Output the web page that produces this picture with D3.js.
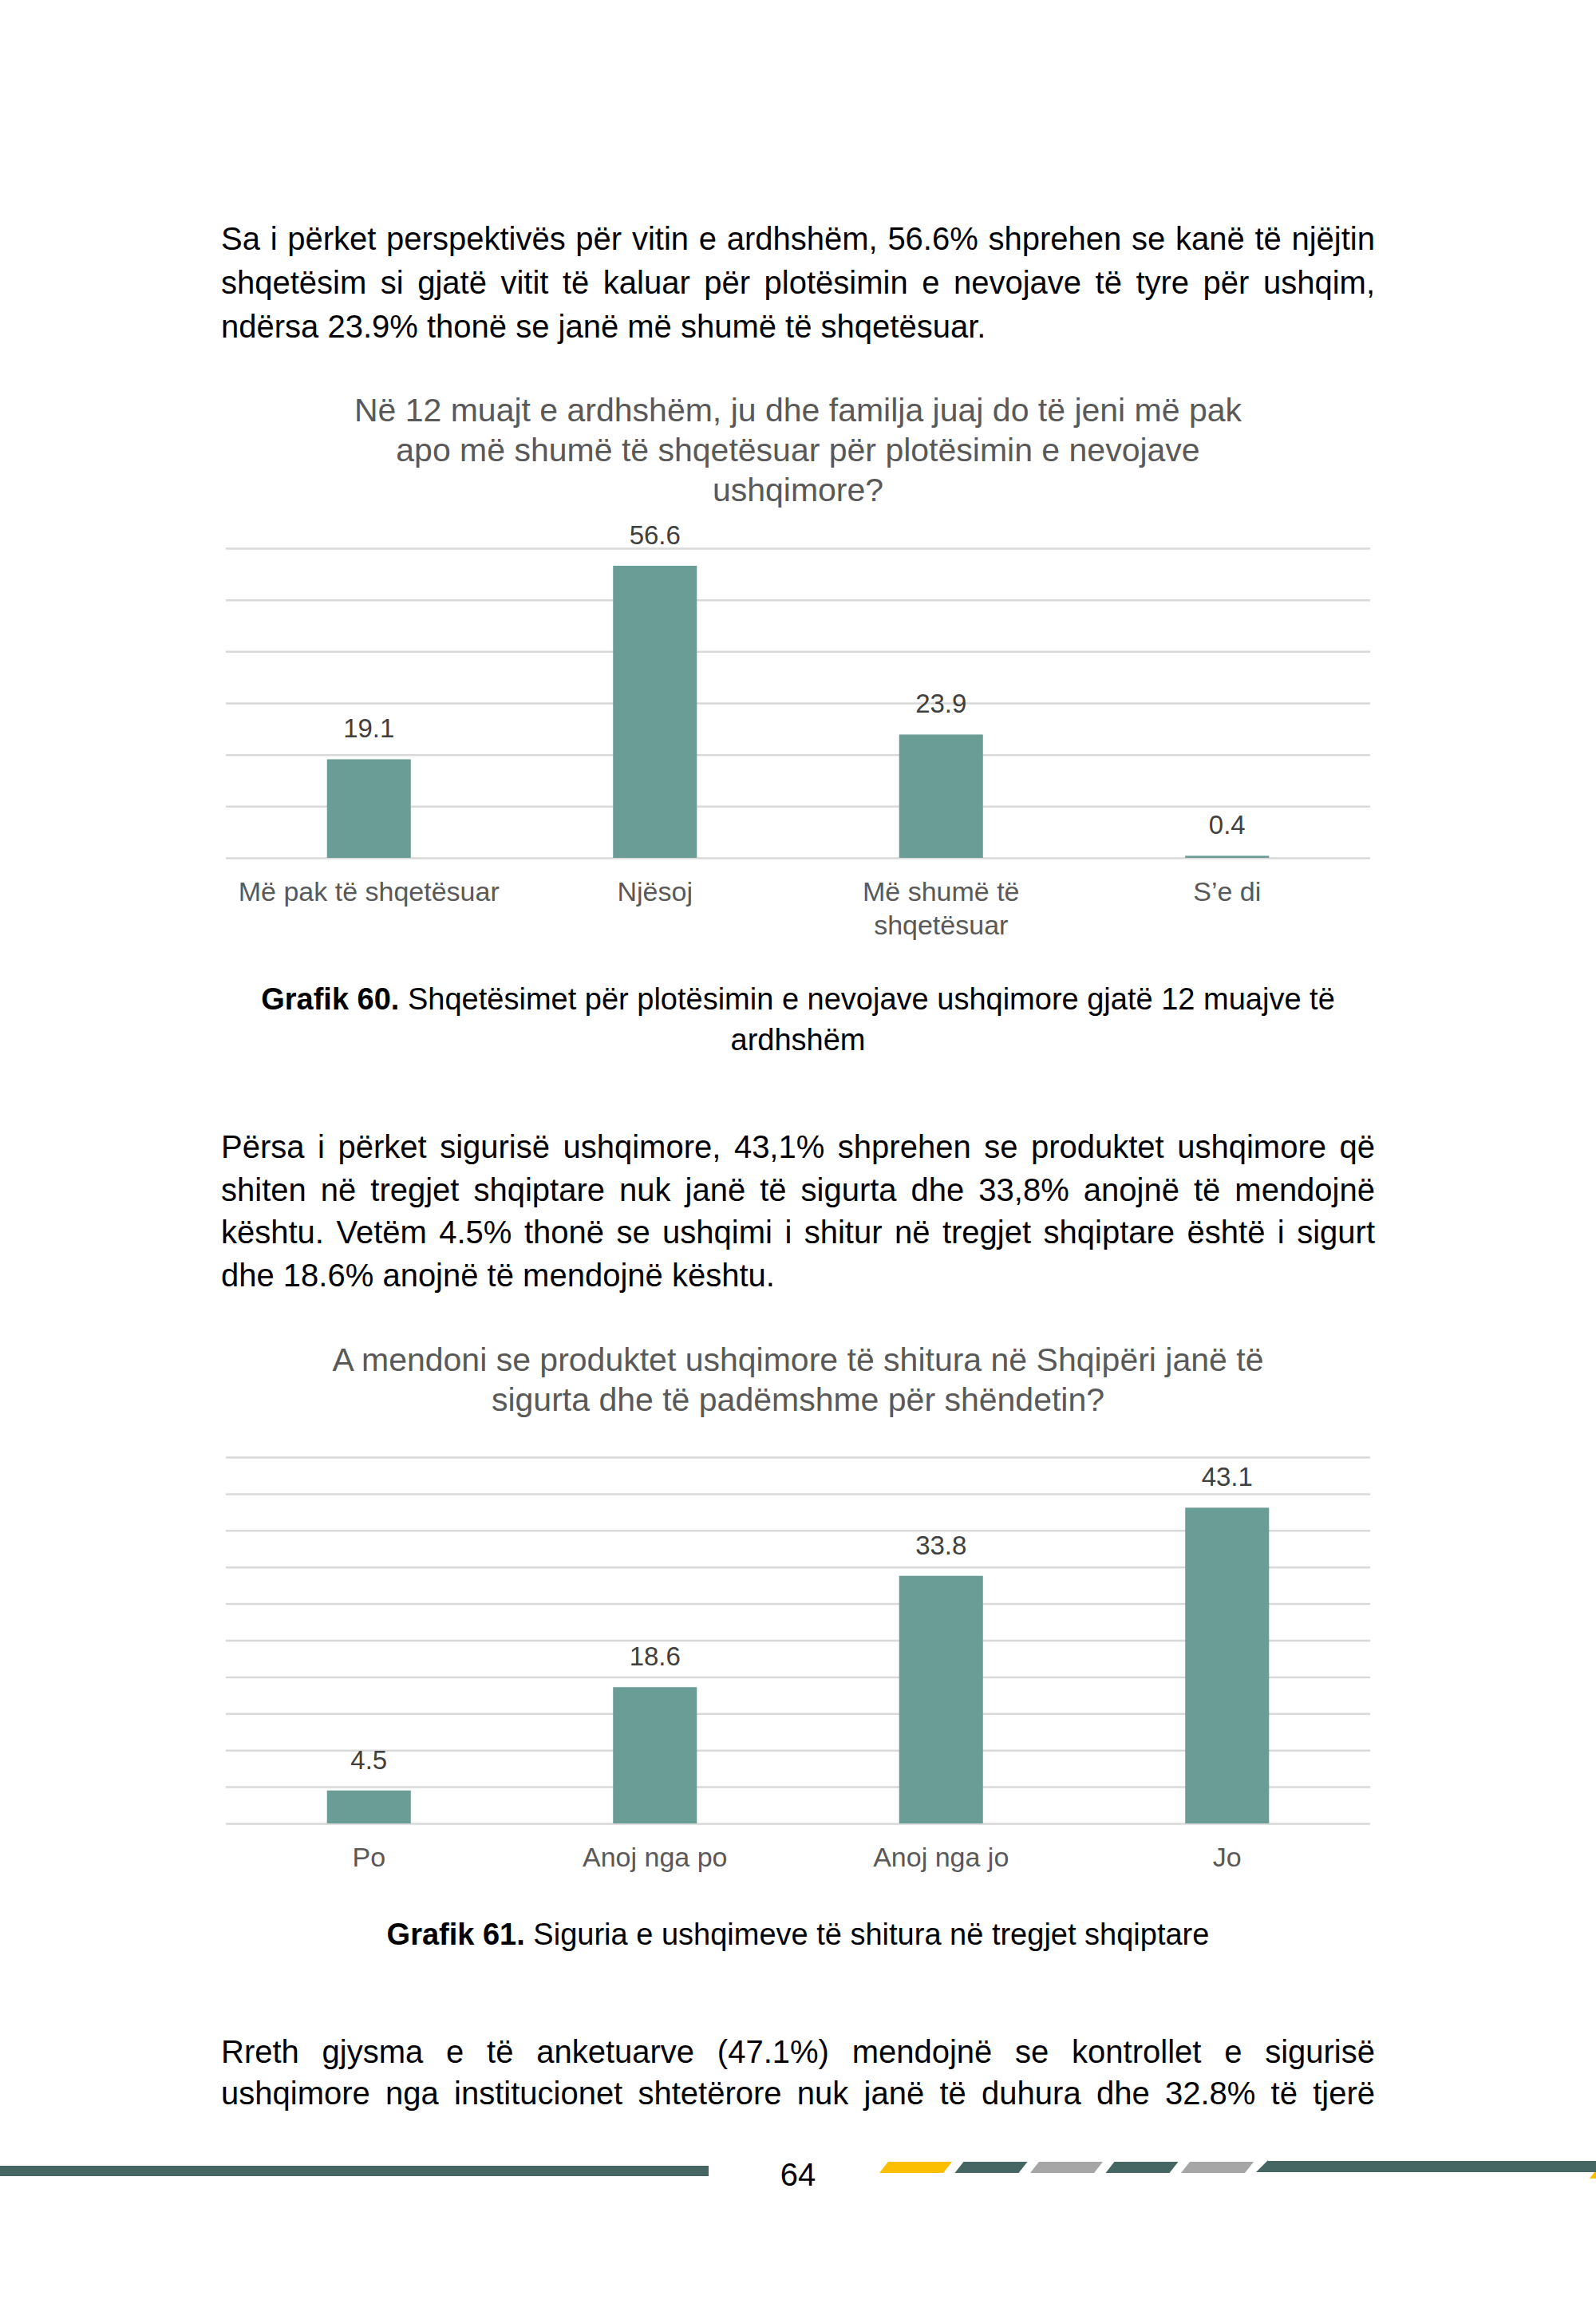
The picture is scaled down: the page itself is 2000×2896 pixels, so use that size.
<!DOCTYPE html>
<html lang="sq">
<head>
<meta charset="UTF-8">
<title>Grafik 60 – 61</title>
<script src="https://d3js.org/d3.v7.min.js"></script>
<style>
  body { margin: 0; background: #fff; }
  svg { display: block; }
  text { font-family: "Liberation Sans", Arial, sans-serif; }
</style>
</head>
<body>

<svg id="page"></svg>

<script>
// ==== Data ====
const cats60 = ["Më pak të shqetësuar", "Njësoj", "Më shumë të shqetësuar", "S’e di"];
const vals60 = [19.1, 56.6, 23.9, 0.4];
const ticks60 = [0, 10, 20, 30, 40, 50, 60];

const cats61 = ["Po", "Anoj nga po", "Anoj nga jo", "Jo"];
const vals61 = [4.5, 18.6, 33.8, 43.1];
const ticks61 = [0, 5, 10, 15, 20, 25, 30, 35, 40, 45, 50];

const title60 = ["Në 12 muajt e ardhshëm, ju dhe familja juaj do të jeni më pak",
                 "apo më shumë të shqetësuar për plotësimin e nevojave",
                 "ushqimore?"];
const title61 = ["A mendoni se produktet ushqimore të shitura në Shqipëri janë të",
                 "sigurta dhe të padëmshme për shëndetin?"];

const para1 = ["Sa i përket perspektivës për vitin e ardhshëm, 56.6% shprehen se kanë të njëjtin",
               "shqetësim si gjatë vitit të kaluar për plotësimin e nevojave të tyre për ushqim,",
               "ndërsa 23.9% thonë se janë më shumë të shqetësuar."];
const para2 = ["Përsa i përket sigurisë ushqimore, 43,1% shprehen se produktet ushqimore që",
               "shiten në tregjet shqiptare nuk janë të sigurta dhe 33,8% anojnë të mendojnë",
               "kështu. Vetëm 4.5% thonë se ushqimi i shitur në tregjet shqiptare është i sigurt",
               "dhe 18.6% anojnë të mendojnë kështu."];
const para3 = ["Rreth gjysma e të anketuarve (47.1%) mendojnë se kontrollet e sigurisë",
               "ushqimore nga institucionet shtetërore nuk janë të duhura dhe 32.8% të tjerë"];

const cap60 = ["Grafik 60.", " Shqetësimet për plotësimin e nevojave ushqimore gjatë 12 muajve të", "ardhshëm"];
const cap61 = ["Grafik 61.", " Siguria e ushqimeve të shitura në tregjet shqiptare"];

// ==== Page ====
const W = 2000, H = 2896;
const textLeft = 277, textRight = 1723;
const svg = d3.select("#page").attr("width", W).attr("height", H);
svg.append("rect").attr("width", W).attr("height", H).attr("fill", "#fff");

// justified paragraph lines (last line left aligned unless the paragraph continues)
function paragraph(lines, y0, lh, lastFull) {
  lines.forEach((t, i) => {
    const el = svg.append("text")
      .attr("x", textLeft).attr("y", y0 + i * lh)
      .attr("font-size", 40).attr("fill", "#000")
      .text(t);
    if (i < lines.length - 1 || lastFull) {
      const w = el.node().getComputedTextLength();
      const n = (t.match(/ /g) || []).length;
      el.attr("word-spacing", (textRight - textLeft - w) / n);
    }
  });
}

function centeredLines(lines, y0, lh, size, color) {
  svg.append("text")
    .attr("text-anchor", "middle").attr("font-size", size).attr("fill", color)
    .selectAll("tspan").data(lines).join("tspan")
    .attr("x", W / 2).attr("y", (d, i) => y0 + i * lh)
    .text(d => d);
}

function caption(parts, y0, lh) {
  const t = svg.append("text").attr("text-anchor", "middle")
    .attr("font-size", 38).attr("fill", "#000")
    .attr("x", W / 2).attr("y", y0);
  t.append("tspan").attr("font-weight", "bold").text(parts[0]);
  t.append("tspan").text(parts[1]);
  if (parts[2]) {
    svg.append("text").attr("text-anchor", "middle")
      .attr("font-size", 38).attr("fill", "#000")
      .attr("x", W / 2).attr("y", y0 + lh).text(parts[2]);
  }
}

function wrapLabel(sel, width, lh) {
  sel.each(function () {
    const text = d3.select(this);
    const words = text.text().split(/\s+/);
    const y = text.attr("y");
    text.text(null);
    let line = [];
    let tspan = text.append("tspan").attr("x", 0).attr("y", y);
    let row = 0;
    words.forEach(w => {
      line.push(w);
      tspan.text(line.join(" "));
      if (tspan.node().getComputedTextLength() > width && line.length > 1) {
        line.pop();
        tspan.text(line.join(" "));
        line = [w];
        row++;
        tspan = text.append("tspan").attr("x", 0).attr("y", +y + row * lh).text(w);
      }
    });
  });
}

function barChart(cats, vals, ticks, yTop, yBase) {
  const x = d3.scaleBand().domain(cats).range([283, 1717])
    .paddingInner(0.707).paddingOuter(0.3535);
  const y = d3.scaleLinear().domain([0, d3.max(ticks)]).range([yBase, yTop]);
  const g = svg.append("g");

  const grid = g.append("g").attr("transform", "translate(283,0)")
    .call(d3.axisLeft(y).tickValues(ticks).tickSize(-(1717 - 283)).tickFormat(""));
  grid.select(".domain").remove();
  grid.selectAll(".tick line").attr("stroke", "#d9d9d9").attr("stroke-width", 2.5);

  g.selectAll("rect.bar").data(vals).join("rect")
    .attr("class", "bar")
    .attr("x", (d, i) => x(cats[i]))
    .attr("width", x.bandwidth())
    .attr("y", d => y(d))
    .attr("height", d => yBase - y(d))
    .attr("fill", "#699d95");

  g.selectAll("text.val").data(vals).join("text")
    .attr("class", "val")
    .attr("x", (d, i) => x(cats[i]) + x.bandwidth() / 2)
    .attr("y", d => y(d) - 27)
    .attr("text-anchor", "middle").attr("font-size", 33).attr("fill", "#404040")
    .text(d3.format(".1f"));

  const xAxis = g.append("g").attr("transform", `translate(0,${yBase})`)
    .call(d3.axisBottom(x).tickSize(0).tickPadding(0));
  xAxis.select(".domain").remove();
  xAxis.selectAll(".tick text")
    .attr("y", 54).attr("dy", null)
    .attr("font-size", 34).attr("fill", "#595959")
    .attr("font-family", '"Liberation Sans", Arial, sans-serif')
    .call(wrapLabel, x.step(), 42);
}

// ==== Content ====
paragraph(para1, 313, 55, false);
centeredLines(title60, 528, 50, 41, "#595959");
barChart(cats60, vals60, ticks60, 687, 1075);
caption(cap60, 1265, 51);

paragraph(para2, 1451, 53.5, false);
centeredLines(title61, 1718, 50, 41, "#595959");
barChart(cats61, vals61, ticks61, 1826, 2285);
caption(cap61, 2437, 51);

paragraph(para3, 2585, 52, true);

// ==== Footer ====
const teal = "#456662";
svg.append("rect").attr("x", 0).attr("y", 2714).attr("width", 888).attr("height", 13).attr("fill", teal);
svg.append("text").attr("x", W / 2).attr("y", 2739).attr("text-anchor", "middle")
  .attr("font-size", 40).attr("fill", "#000").text("64");
const stripeCols = ["#fbbf00", teal, "#a6a6a6", teal, "#a6a6a6"];
svg.selectAll("polygon.stripe").data(stripeCols).join("polygon")
  .attr("class", "stripe")
  .attr("points", (d, i) => {
    const x0 = 1102 + i * 94.5;
    return `${x0},2723 ${x0 + 80},2723 ${x0 + 91},2709 ${x0 + 11},2709`;
  })
  .attr("fill", d => d);
svg.append("polygon").attr("points", "1574,2722 1589,2707 1589,2722").attr("fill", teal);
svg.append("rect").attr("x", 1589).attr("y", 2708).attr("width", 411).attr("height", 14).attr("fill", teal);
svg.append("polygon").attr("points", "1992,2730 1998,2722 2000,2722 2000,2730").attr("fill", "#fbbf00");
</script>
</body>
</html>
